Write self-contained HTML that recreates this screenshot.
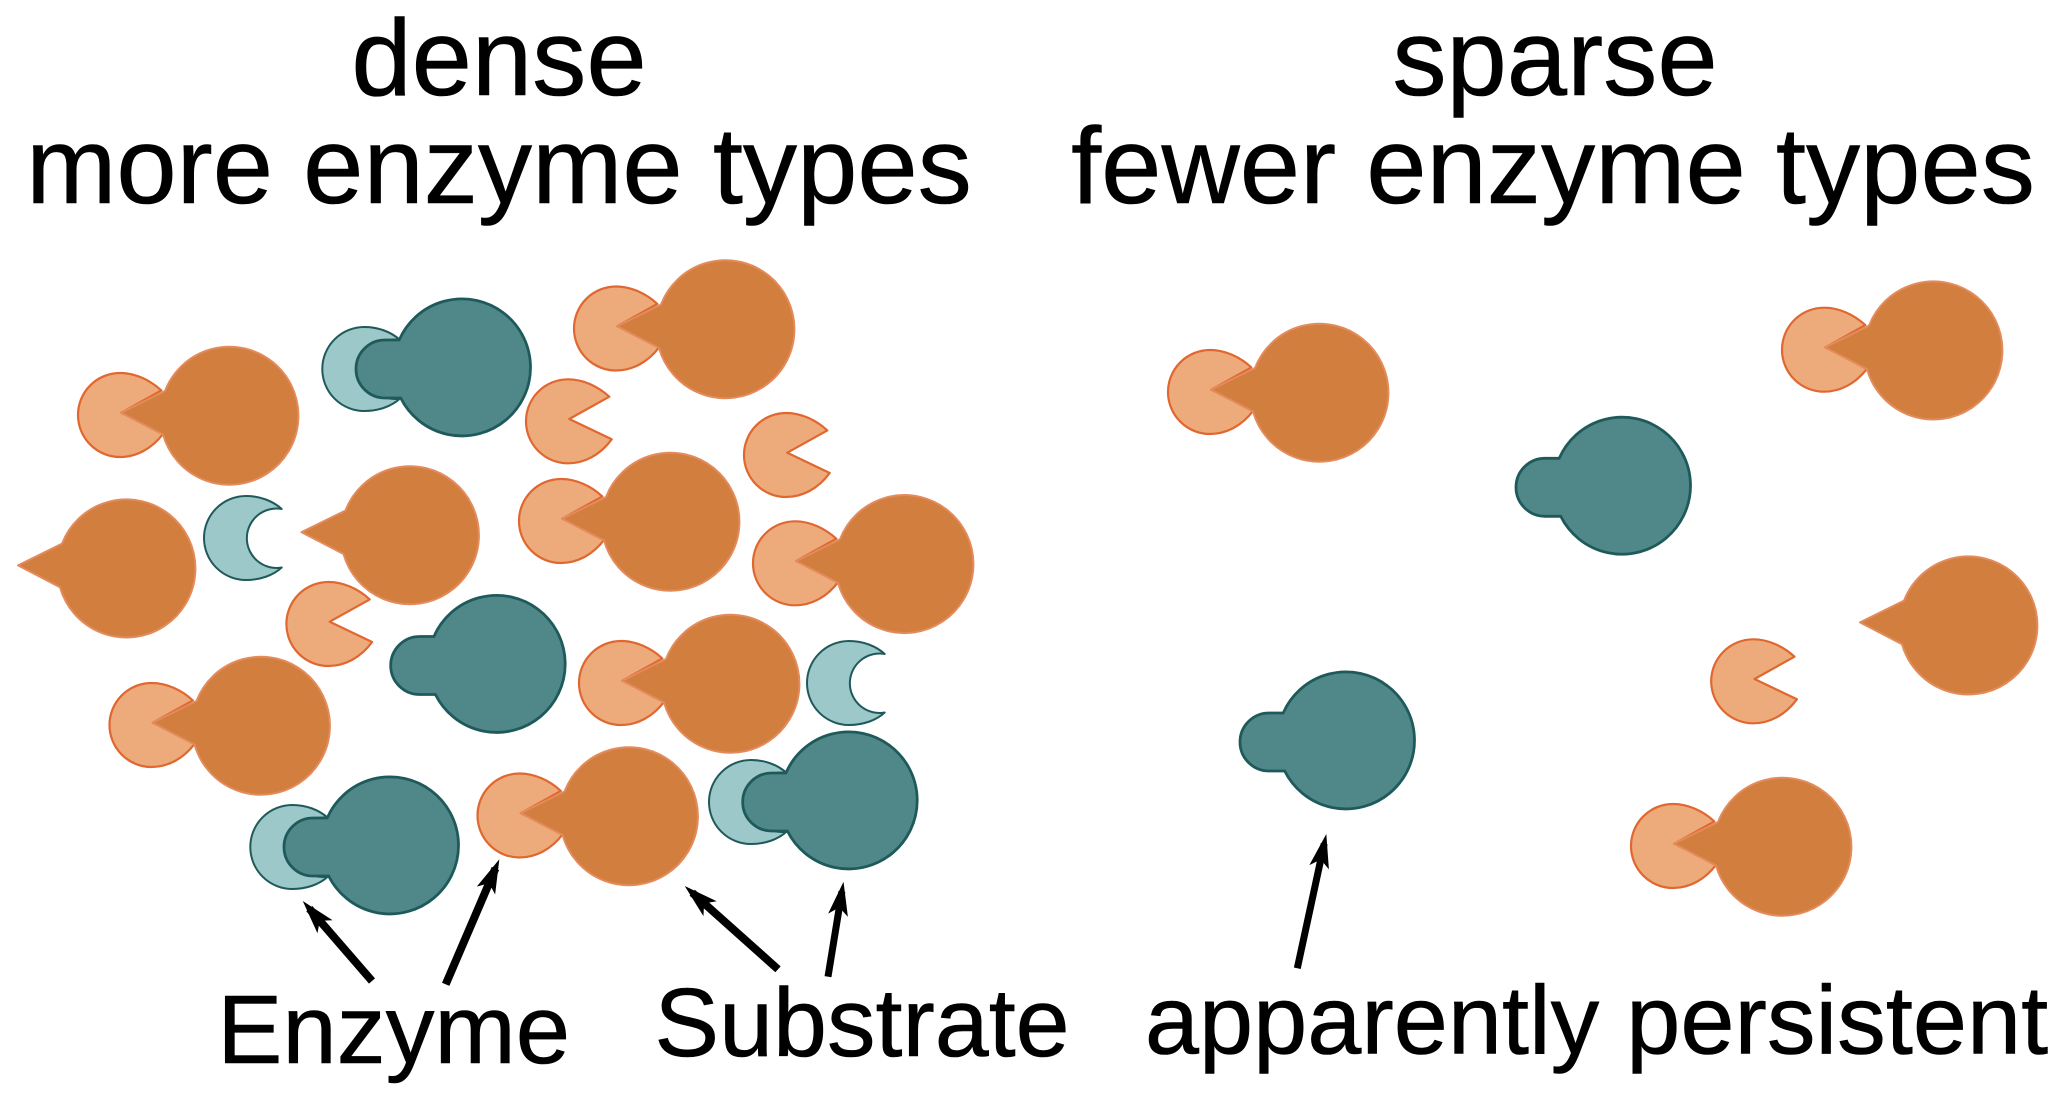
<!DOCTYPE html>
<html><head><meta charset="utf-8"><style>
html,body{margin:0;padding:0;background:#fff}
svg{display:block}
text{font-family:"Liberation Sans",sans-serif;fill:#000;text-anchor:middle;stroke:#000;stroke-width:.6px}
.t{font-size:108.4px}
</style></head><body>
<svg width="2067" height="1101" viewBox="0 0 2067 1101" xmlns="http://www.w3.org/2000/svg">
<defs>
<path id="sub" d="M-108.5,-3.3L-64.5,-25A69 69 0 1 1-66.5,18.5Z" fill="#d17e3f" stroke="#e48b5c" stroke-width="2" stroke-linejoin="round"/>
<path id="pac" d="M1.3,-2.3L41.3,-24.6C30,-35 15,-42 0,-42A42 42 0 1 0 0,42C16,42 32,34 43.7,18Z" fill="#edab7b" stroke="#e0672f" stroke-width="2.2" stroke-linejoin="round"/>
<path id="tsub" d="M-62.8,-27L-77,-27A29 29 0 0 0-77,31L-61.3,31A68.5 68.5 0 1 0-62.8,-27Z" fill="#50888a" stroke="#1f5a5a" stroke-width="2.8"/>
<path id="cres" d="M35.7,-29C27,-37 14,-42 0,-42A42 42 0 1 0 0,42C14,42 27,37.5 35.7,29.5A29.7 29.7 0 1 1 35.7,-29Z" fill="#9dc8ca" stroke="#1f5a5a" stroke-width="2" stroke-linejoin="round"/>
<g id="cx"><use href="#pac" x="-109.5" y="-1"/><use href="#sub"/></g>
<g id="tcx"><use href="#cres" x="-97.7" y="2"/><use href="#tsub"/></g>
<marker id="a" markerUnits="userSpaceOnUse" markerWidth="44" markerHeight="34" refX="30" refY="17" orient="auto">
<path d="M40,17L6,7L14,17L6,27Z" fill="#000"/>
</marker>
</defs>

<text class="t" x="499" y="95">dense</text>
<text class="t" x="499" y="203">more enzyme types</text>
<text class="t" x="1555" y="95">sparse</text>
<text class="t" x="1553" y="203">fewer enzyme types</text>

<use href="#cx" x="229.5" y="416"/>
<use href="#cx" x="725.5" y="329.5"/>
<use href="#cx" x="670.5" y="522"/>
<use href="#cx" x="904.5" y="564.3"/>
<use href="#cx" x="730.5" y="684"/>
<use href="#cx" x="261" y="726"/>
<use href="#cx" x="629" y="816.5"/>
<use href="#sub" x="126.5" y="568.7"/>
<use href="#sub" x="410" y="535.5"/>
<use href="#pac" x="568" y="421.3"/>
<use href="#pac" x="786" y="455"/>
<use href="#pac" x="328.4" y="624"/>
<use href="#cres" x="246" y="538"/>
<use href="#cres" x="849" y="683"/>
<use href="#tcx" x="462" y="367"/>
<use href="#tsub" x="496.7" y="663.5"/>
<use href="#tcx" x="848.7" y="800"/>
<use href="#tcx" x="390" y="845"/>

<use href="#cx" x="1319.5" y="393"/>
<use href="#cx" x="1933.5" y="350.7"/>
<use href="#cx" x="1782.5" y="847"/>
<use href="#sub" x="1968.5" y="625.7"/>
<use href="#pac" x="1753.2" y="681.3"/>
<use href="#tsub" x="1622" y="485.3"/>
<use href="#tsub" x="1346" y="740"/>

<g stroke="#000" stroke-width="8" fill="none">
<line x1="372" y1="981" x2="309.3" y2="908.6" marker-end="url(#a)"/>
<line x1="445.7" y1="984.3" x2="495.4" y2="868.5" marker-end="url(#a)"/>
<line x1="778" y1="969.3" x2="692.2" y2="892.7" marker-end="url(#a)"/>
<line x1="828" y1="976.7" x2="841.9" y2="891.6" marker-end="url(#a)" stroke-width="7"/>
<line x1="1297.3" y1="968.3" x2="1324.2" y2="843.8" marker-end="url(#a)" stroke-width="7"/>
</g>

<text x="393.7" y="1063" font-size="97.7">Enzyme</text>
<text x="862" y="1056" font-size="97">Substrate</text>
<text x="1596.5" y="1053.5" font-size="97.3">apparently persistent</text>
</svg>
</body></html>
